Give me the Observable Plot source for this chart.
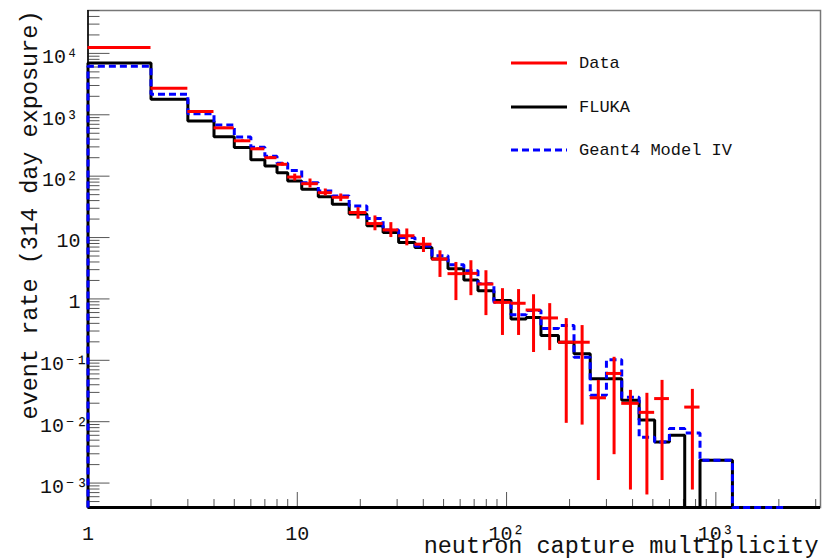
<!DOCTYPE html>
<html>
<head>
<meta charset="utf-8">
<script src="https://cdn.jsdelivr.net/npm/d3@7"></script>
<script src="https://cdn.jsdelivr.net/npm/@observablehq/plot@0.6"></script>
<style>
  html, body { margin: 0; padding: 0; background: #fff; }
  svg { display: block; }
</style>
</head>
<body>
<div id="chart"></div>
<script>
// ---- data ----
const binEdges = [1,2,3,4,5,6,7,8,9,10.5,12.6,14.7,17.7,21.5,25.7,30.5,36.5,44,52.5,62.5,73,87,105,124,146,177,210,251,300,355,430,510,600,710,840,1000,1200,2100];
const dataVal = [12500,2700,1130,612,377,279,200,156,96.8,75.4,53.8,45.3,25.6,16.9,13.3,10.7,7.8,4.46,2.58,2.61,1.75,0.88,0.85,0.66,0.49,0.197,0.197,0.0245,0.0611,0.0199,0.0142,0.0238,null,0.0173,null,null,null];
const dataLo  = [12300,2640,1100,595,364,268,190,146,83.4,64.2,47.6,38.5,19.9,12.9,10.0,7.33,5.71,2.24,0.94,1.13,0.535,0.254,0.254,0.134,0.144,0.0094,0.0088,0.0011,0.0029,0.00077,0.00064,0.0011,null,0.00077,null,null,null];
const dataHi  = [12700,2760,1160,630,390,290,210,166,108,89.9,61.8,51.3,30.7,22.5,17.5,13.8,10.0,6.08,3.93,4.19,2.88,1.47,1.42,1.17,0.838,0.478,0.368,0.0471,0.112,0.0324,0.0290,0.0471,null,0.0336,null,null,null];
const flukaVal = [6950,1790,795,437,292,185,146,114,83.4,61.1,46.4,34.9,24.3,15.5,12.1,8.3,6.9,4.46,3.10,2.03,1.36,0.94,0.47,0.50,0.254,0.197,0.128,0.050,0.050,0.0223,0.0107,0.00469,0.00603,0,0.00236,0.00236,0];
const geantVal = [6150,2160,1040,684,433,297,212,162,124,78.2,57.4,47.6,32.7,20.4,13.3,10.0,7.3,5.05,3.60,2.88,1.77,0.88,0.55,0.65,0.329,0.368,0.112,0.0269,0.102,0.0249,0.00559,0.00469,0.00773,0.00656,0.00236,0.00236,0];

const seriesNames = ["Data", "FLUKA", "Geant4 Model IV"];
const seriesColors = ["#ff0000", "#000000", "#0000ff"];

const xTickValues = [1, 10, 100, 1000];
const xTickLabels = ["1", "10", "10\u00B2", "10\u00B3"];
const yTickValues = [1e-3, 1e-2, 1e-1, 1, 10, 1e2, 1e3, 1e4];
const yTickLabels = ["10\u207B\u00B3", "10\u207B\u00B2", "10\u207B\u00B9", "1", "10", "10\u00B2", "10\u00B3", "10\u2074"];

const xTitle = "neutron capture multiplicity";
const yTitle = "event rate (314 day exposure)";

// ---- derived tables ----
const xDomain = [1, Math.pow(10, 3.5)];
const yDomain = [4e-4, 5e4];
const yFloor = yDomain[0];

const bins = binEdges.slice(0, -1).map((lo, i) => ({
  lo, hi: binEdges[i + 1], c: Math.sqrt(lo * binEdges[i + 1]),
  data: dataVal[i], dlo: dataLo[i], dhi: dataHi[i],
  fluka: flukaVal[i], geant: geantVal[i]
}));

function stepPoints(vals) {
  const pts = [{x: binEdges[0], y: yFloor}];
  vals.forEach((v, i) => pts.push({x: binEdges[i], y: v > 0 ? v : yFloor}));
  const last = vals[vals.length - 1];
  pts.push({x: binEdges[binEdges.length - 1], y: last > 0 ? last : yFloor});
  return pts;
}

const dataBins = bins.filter(d => d.data != null);

const minorX = [];
for (let e = 0; e <= 3; e++) for (let m = 2; m <= 9; m++) { const v = m * Math.pow(10, e); if (v <= xDomain[1]) minorX.push(v); }
const minorY = [];
for (let e = -4; e <= 4; e++) for (let m = 2; m <= 9; m++) { const v = m * Math.pow(10, e); if (v >= yDomain[0] && v <= yDomain[1]) minorY.push(v); }

const W = 827, H = 559;
const mL = 87.5, mR = 7, mT = 10, mB = 52;
const innerW = W - mL - mR, innerH = H - mT - mB;

const xLab = xTickValues.map((v, i) => ({v, label: xTickLabels[i]}));
const yLab = yTickValues.map((v, i) => ({v, label: yTickLabels[i]}));
const isPlain = s => s === "1" || s === "10";
const isNeg = s => s.indexOf("\u207B") >= 0;
const font = "Liberation Mono, DejaVu Sans Mono, monospace";

const plot = Plot.plot({
  width: W, height: H,
  marginLeft: mL, marginRight: mR, marginTop: mT, marginBottom: mB,
  x: {type: "log", domain: xDomain, axis: null},
  y: {type: "log", domain: yDomain, axis: null},
  style: {fontFamily: font, background: "#fff", overflow: "visible"},
  marks: [
    Plot.frame({stroke: "#777", strokeWidth: 1.5}),
    // ticks (inward)
    Plot.ruleX(minorX, {x: d => d, insetTop: innerH - 8, stroke: "#555", strokeWidth: 1}),
    Plot.ruleX(xTickValues, {x: d => d, insetTop: innerH - 15, stroke: "#555", strokeWidth: 1}),
    Plot.ruleY(minorY, {y: d => d, insetRight: innerW - 12, stroke: "#555", strokeWidth: 1}),
    Plot.ruleY(yTickValues, {y: d => d, insetRight: innerW - 22, stroke: "#555", strokeWidth: 1}),
    // axis lines
    Plot.ruleX([xDomain[0]], {stroke: "#000", strokeWidth: 1.5}),
    Plot.ruleY([yDomain[0]], {stroke: "#000", strokeWidth: 3}),
    // histograms
    Plot.line(stepPoints(flukaVal), {x: "x", y: "y", curve: "step-after", stroke: seriesColors[1], strokeWidth: 3, strokeLinejoin: "miter", strokeLinecap: "butt"}),
    Plot.line(stepPoints(geantVal), {x: "x", y: "y", curve: "step-after", stroke: seriesColors[2], strokeWidth: 3, strokeDasharray: "7,4", strokeLinejoin: "miter", strokeLinecap: "butt"}),
    // data crosses
    Plot.ruleY(dataBins, {y: "data", x1: "lo", x2: "hi", stroke: seriesColors[0], strokeWidth: 3}),
    Plot.ruleX(dataBins, {x: "c", y1: "dlo", y2: "dhi", stroke: seriesColors[0], strokeWidth: 3}),
    // x tick labels
    Plot.text(xLab, {x: "v", text: "label", frameAnchor: "bottom", lineAnchor: "bottom", dy: 32, fontSize: 20, fill: "#111"}),
    // y tick labels
    Plot.text(yLab.filter(d => isPlain(d.label)), {y: "v", text: "label", frameAnchor: "left", lineAnchor: "bottom", textAnchor: "end", dx: -7.5, dy: 9, fontSize: 20, fill: "#111"}),
    Plot.text(yLab.filter(d => !isPlain(d.label) && !isNeg(d.label)), {y: "v", text: "label", frameAnchor: "left", lineAnchor: "bottom", textAnchor: "end", dx: -10, dy: 10, fontSize: 20, fill: "#111"}),
    Plot.text(yLab.filter(d => isNeg(d.label)), {y: "v", text: "label", frameAnchor: "left", lineAnchor: "bottom", textAnchor: "end", dx: 0, dy: 10, fontSize: 20, fill: "#111"}),
    // axis titles
    Plot.text([xTitle], {text: d => d, frameAnchor: "bottom-right", textAnchor: "end", lineAnchor: "bottom", dx: -2, dy: 45, fontSize: 23.5, fill: "#111"}),
    Plot.text([yTitle], {text: d => d, frameAnchor: "top-left", textAnchor: "end", lineAnchor: "bottom", rotate: -90, dx: -51, dy: 0, fontSize: 23.5, fill: "#111"})
  ]
});

// legend inside the frame
const svg = d3.select(plot);
const lg = svg.append("g").attr("font-family", font).attr("font-size", 17).attr("text-anchor", "start");
const legendRows = [63, 107, 150];
seriesNames.forEach((name, i) => {
  const line = lg.append("line")
    .attr("x1", 511).attr("x2", 567).attr("y1", legendRows[i]).attr("y2", legendRows[i])
    .attr("stroke", seriesColors[i]).attr("stroke-width", 3);
  if (i === 2) line.attr("stroke-dasharray", "7,4");
  lg.append("text").attr("x", 579).attr("y", legendRows[i]).attr("dy", "0.32em")
    .attr("text-anchor", "start").attr("fill", "#111").text(name);
});

document.getElementById("chart").appendChild(plot);
</script>
</body>
</html>
